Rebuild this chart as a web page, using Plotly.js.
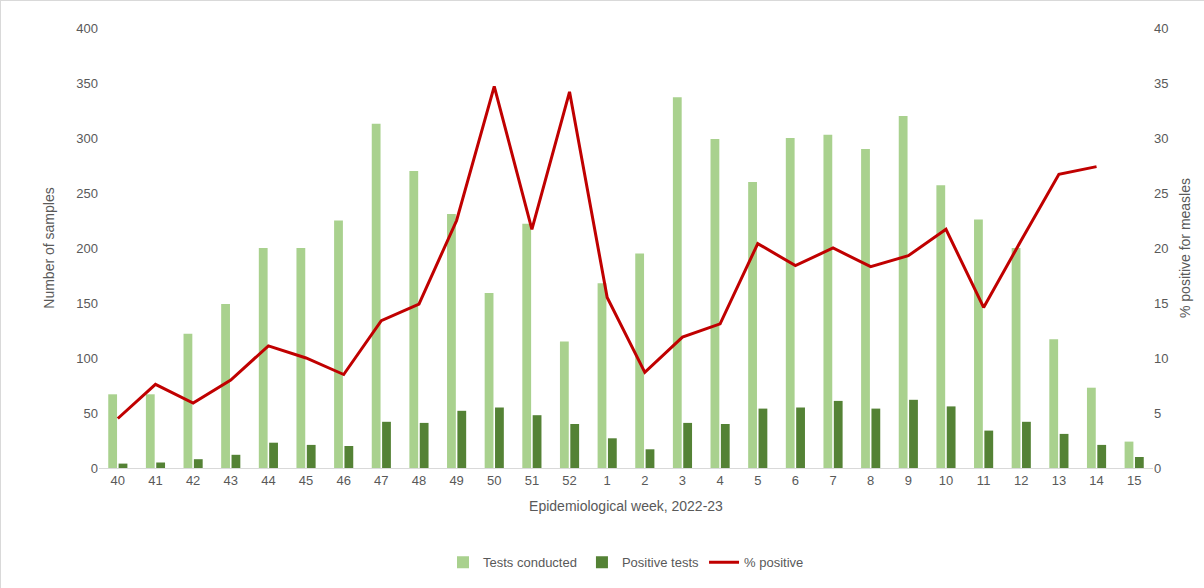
<!DOCTYPE html>
<html>
<head>
<meta charset="utf-8">
<script src="https://cdn.plot.ly/plotly-3.0.1.min.js"></script>
<style>
html,body{margin:0;padding:0;background:#fff;}
#chart{width:1204px;height:588px;box-sizing:border-box;border:1px solid #d9d9d9;}
</style>
</head>
<body>
<div id="chart"></div>
<script>
let weeks = ['40','41','42','43','44','45','46','47','48','49','50','51','52','1','2','3','4','5','6','7','8','9','10','11','12','13','14','15'];
let testsConducted = [67,67,122,149,200,200,225,313,270,231,159,222,115,168,195,337,299,260,300,303,290,320,257,226,200,117,73,24];
let positiveTests = [4,5,8,12,23,21,20,42,41,52,55,48,40,27,17,41,40,54,55,61,54,62,56,34,42,31,21,10];
let pctPositive = [4.5,7.6,5.9,8.0,11.1,10.0,8.5,13.4,14.9,22.5,34.7,21.7,34.2,15.5,8.7,11.9,13.1,20.4,18.4,20.0,18.3,19.3,21.7,14.6,20.7,26.7,27.4,null];

let tickVals = [0,50,100,150,200,250,300,350,400];
let tickValsR = [0,5,10,15,20,25,30,35,40];

let traces = [
    {x: weeks, y: testsConducted, type: 'bar', name: 'Tests conducted', marker: {color: '#a9d18e'}},
    {x: weeks, y: positiveTests, type: 'bar', name: 'Positive tests', marker: {color: '#548235'}},
    {x: weeks, y: pctPositive, type: 'scatter', mode: 'lines', name: '% positive', yaxis: 'y2',
     line: {color: '#c00000', width: 3}}
];

let layout = {
    width: 1204, height: 588,
    margin: {l: 98, r: 52, t: 27, b: 110},
    font: {family: 'Liberation Sans, Arial, sans-serif', size: 13, color: '#595959'},
    barmode: 'group', bargap: 0.45, bargroupgap: 0.15,
    xaxis: {type: 'category', title: {text: 'Epidemiological week, 2022-23', font: {size: 14}, standoff: 14},
        showline: true, linecolor: '#d9d9d9', ticks: '', tickfont: {size: 13}},
    yaxis: {range: [0, 400], tickvals: tickVals, showgrid: false, zeroline: false,
        title: {text: 'Number of samples', font: {size: 14}, standoff: 18}},
    yaxis2: {range: [0, 40], tickvals: tickValsR, overlaying: 'y', side: 'right', showgrid: false, zeroline: false,
        title: {text: '% positive for measles', font: {size: 14}, standoff: 12}},
    legend: {orientation: 'h', x: 0.5, xanchor: 'center', y: -0.18, yanchor: 'top', font: {size: 13}},
    plot_bgcolor: '#fff', paper_bgcolor: '#fff',
    showlegend: true
};

Plotly.newPlot('chart', traces, layout, {displayModeBar: false});
</script>
</body>
</html>
